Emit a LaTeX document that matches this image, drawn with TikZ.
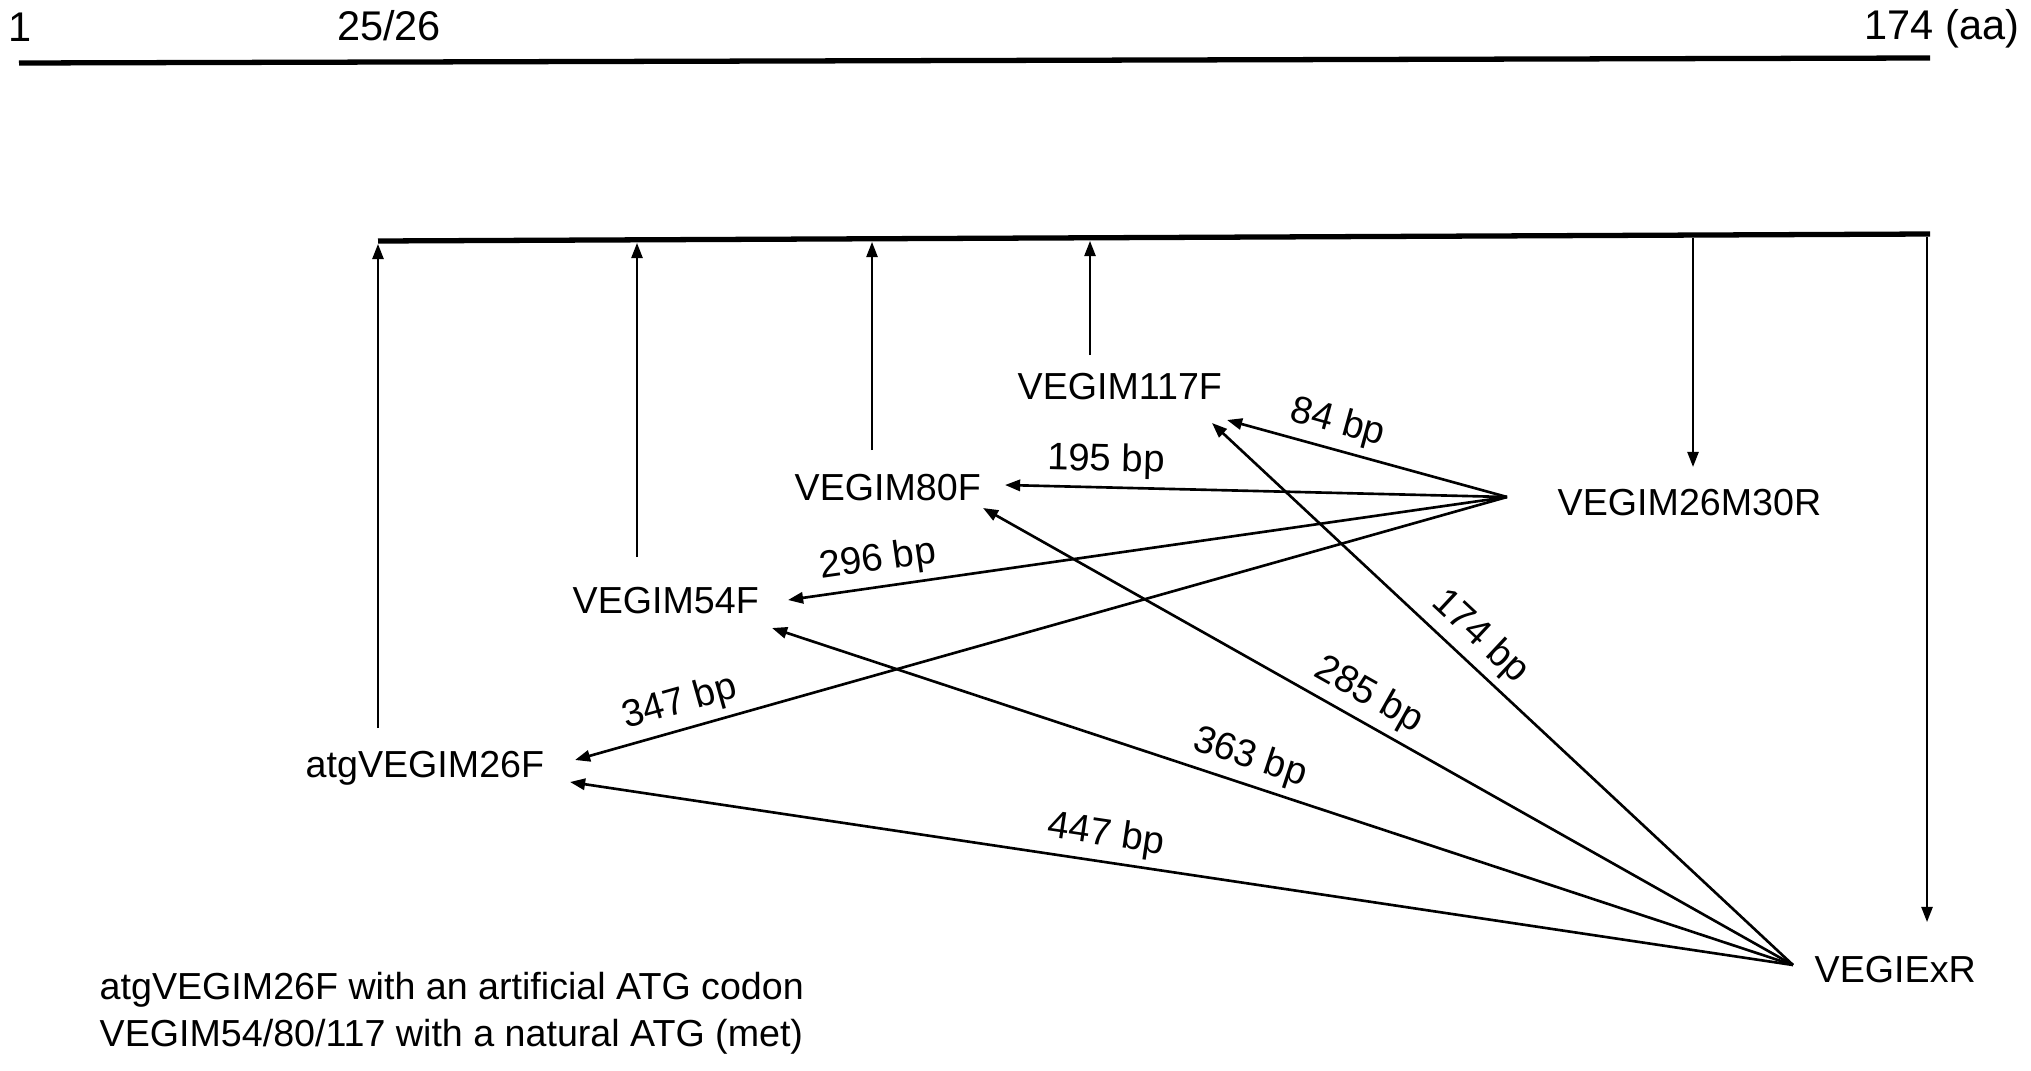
\documentclass[tikz,border=0pt]{standalone}
\usepackage{fontspec}
\setmainfont{Liberation Sans}
\usetikzlibrary{arrows.meta,positioning,calc}

\begin{document}
\begin{tikzpicture}[x=0.01cm,y=-0.01cm,
    lbl/.style={inner sep=0pt,font=\fontsize{10.7}{12.8}\selectfont},
    scalelbl/.style={inner sep=0pt,font=\fontsize{11.8}{14}\selectfont},
    bp/.style={sloped,above,inner sep=2pt,font=\fontsize{10.9}{12.8}\selectfont},
    seqline/.style={line width=1.5pt},
    primer/.style={line width=0.55pt,-{Triangle[length=4.3pt,width=3.2pt]}},
    product/.style={line width=0.75pt,-{Triangle[length=4.3pt,width=3.2pt]}}]
  \useasboundingbox (0,0) rectangle (2031,1070);
  %% aa scale
  \draw[seqline] (19,63) -- (1930,58);
  \node[scalelbl,anchor=base] (aa1) at (20,42) {1};
  \node[scalelbl,anchor=base] (aa26) at (389,41) {25/26};
  \node[scalelbl,anchor=base west] (aa174) at (1864,40) {174 (aa)};
  %% cDNA line and primer sites
  \draw[seqline] (378,241) -- (1930,234);
  \coordinate (m26) at (378,244);
  \coordinate (m54) at (637,243);
  \coordinate (m80) at (872,242);
  \coordinate (m117) at (1090,241);
  \coordinate (m30) at (1693,238);
  \coordinate (mex) at (1927,237);
  %% primers
  \node[lbl,anchor=base west] (p117) at (1017,399) {VEGIM117F};
  \node[lbl,anchor=base west] (p80) at (794,500) {VEGIM80F};
  \node[lbl,anchor=base west] (p54) at (572,613) {VEGIM54F};
  \node[lbl,anchor=base west] (p26) at (305,777) {atgVEGIM26F};
  \node[lbl,anchor=base west] (r30) at (1557,515) {VEGIM26M30R};
  \node[lbl,anchor=base west] (rex) at (1814,982) {VEGIExR};
  \draw[primer,shorten <=6.2pt] (p26.north -| m26) -- (m26);
  \draw[primer,shorten <=8.2pt] (p54.north -| m54) -- (m54);
  \draw[primer,shorten <=6.5pt] (p80.north -| m80) -- (m80);
  \draw[primer,shorten <=4.8pt] (p117.north -| m117) -- (m117);
  \draw[primer,shorten >=6pt] (m30) -- (r30.north -| m30);
  \draw[primer,shorten >=9.4pt] (mex) -- (rex.north -| mex);
  %% PCR products, reverse VEGIM26M30R
  \coordinate (o30) at (1507,497);
  \coordinate (t84) at (1227,420);
  \coordinate (t195) at (1005,485);
  \coordinate (t296) at (788,600);
  \coordinate (t347) at (575,760);
  \draw[product] (o30) -- node[bp,pos=0.63]{84 bp} (t84);
  \draw[product] (o30) -- node[bp,pos=0.80]{195 bp} (t195);
  \draw[product] (o30) -- node[bp,pos=0.87]{296 bp} (t296);
  \draw[product] (o30) -- node[bp,pos=0.88]{347 bp} (t347);
  %% PCR products, reverse VEGIExR
  \coordinate (oex) at (1793,965);
  \coordinate (t174) at (1212,423);
  \coordinate (t285) at (983,508);
  \coordinate (t363) at (772,628);
  \coordinate (t447) at (570,782);
  \draw[product] (oex) -- node[bp,pos=0.57]{174 bp} (t174);
  \draw[product] (oex) -- node[bp,pos=0.54]{285 bp} (t285);
  \draw[product] (oex) -- node[bp,pos=0.54]{363 bp} (t363);
  \draw[product] (oex) -- node[bp,pos=0.565]{447 bp} (t447);
  %% notes
  \node[lbl,anchor=base west] (note1) at (99,999) {atgVEGIM26F with an artificial ATG codon};
  \node[lbl,anchor=base west] (note2) at (99,1046) {VEGIM54/80/117 with a natural ATG (met)};
\end{tikzpicture}
\end{document}
